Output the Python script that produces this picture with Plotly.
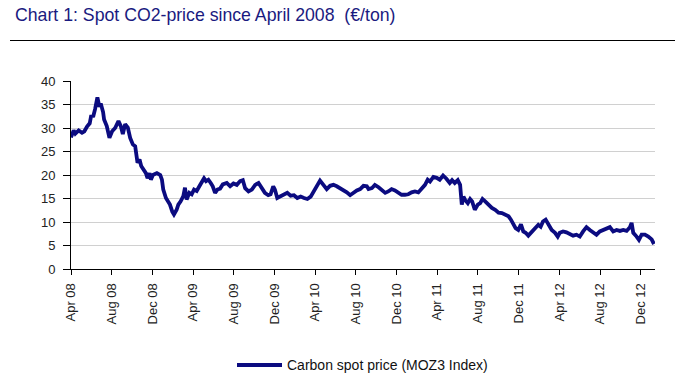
import plotly.graph_objects as go

dates = [
    "2008-04-01","2008-04-09","2008-04-14","2008-04-24","2008-05-04","2008-05-11","2008-05-19","2008-05-27",
    "2008-05-31","2008-06-07","2008-06-12","2008-06-19","2008-06-25","2008-06-29","2008-07-06","2008-07-09",
    "2008-07-17","2008-07-25","2008-08-02","2008-08-11","2008-08-21","2008-08-28","2008-09-03","2008-09-10",
    "2008-09-18","2008-09-25","2008-10-03","2008-10-10","2008-10-17","2008-10-23","2008-10-28","2008-11-04",
    "2008-11-11","2008-11-16","2008-11-22","2008-11-26","2008-12-02","2008-12-14","2008-12-24","2008-12-29",
    "2009-01-02","2009-01-10","2009-01-17","2009-01-22","2009-01-29","2009-02-03","2009-02-11","2009-02-16",
    "2009-02-23","2009-03-03","2009-03-08","2009-03-13","2009-03-21","2009-03-28","2009-04-04","2009-04-12",
    "2009-04-20","2009-04-27","2009-05-04","2009-05-10","2009-05-17","2009-05-24","2009-05-30","2009-06-06",
    "2009-06-13","2009-06-21","2009-06-29","2009-07-11","2009-07-21","2009-07-31","2009-08-10","2009-08-20",
    "2009-08-28","2009-09-04","2009-09-14","2009-09-24","2009-10-04","2009-10-14","2009-10-24","2009-11-02",
    "2009-11-12","2009-11-19","2009-11-27","2009-12-02","2009-12-09","2009-12-19","2009-12-29","2010-01-08",
    "2010-01-18","2010-01-28","2010-02-07","2010-02-17","2010-02-27","2010-03-09","2010-03-19","2010-03-29",
    "2010-04-08","2010-04-16","2010-04-26","2010-05-06","2010-05-16","2010-05-26","2010-06-05","2010-06-15",
    "2010-06-25","2010-07-05","2010-07-15","2010-07-25","2010-08-04","2010-08-14","2010-08-24","2010-09-03",
    "2010-09-08","2010-09-18","2010-09-27","2010-10-08","2010-10-18","2010-10-28","2010-11-06","2010-11-16",
    "2010-11-26","2010-12-06","2010-12-16","2010-12-26","2011-01-05","2011-01-15","2011-01-25","2011-02-04",
    "2011-02-14","2011-02-24","2011-03-04","2011-03-11","2011-03-21","2011-03-31","2011-04-09","2011-04-19",
    "2011-04-29","2011-05-09","2011-05-16","2011-05-24","2011-06-02","2011-06-09","2011-06-14","2011-06-19",
    "2011-06-24","2011-07-02","2011-07-09","2011-07-15","2011-07-23","2011-08-01","2011-08-08","2011-08-15",
    "2011-08-23","2011-09-02","2011-09-12","2011-09-22","2011-10-02","2011-10-12","2011-10-22","2011-11-01",
    "2011-11-08","2011-11-15","2011-11-22","2011-11-30","2011-12-08","2011-12-15","2011-12-22","2011-12-30",
    "2012-01-07","2012-01-14","2012-01-21","2012-01-29","2012-02-05","2012-02-12","2012-02-20","2012-02-28",
    "2012-03-09","2012-03-19","2012-03-27","2012-04-02","2012-04-12","2012-04-22","2012-05-02","2012-05-12",
    "2012-05-22","2012-06-01","2012-06-11","2012-06-21","2012-07-01","2012-07-11","2012-07-21","2012-07-31",
    "2012-08-10","2012-08-20","2012-08-30","2012-09-09","2012-09-19","2012-09-29","2012-10-09","2012-10-19",
    "2012-10-29","2012-11-03","2012-11-08","2012-11-18","2012-11-25","2012-12-03","2012-12-13","2012-12-23",
    "2013-01-02","2013-01-09",
]

prices = [
    28.0,29.5,28.8,29.5,29.0,29.3,30.3,31.0,
    32.5,32.6,34.0,36.5,34.5,35.2,33.4,31.8,
    30.4,27.9,29.3,30.0,31.5,30.4,28.7,30.8,
    30.1,27.9,26.5,26.1,22.6,23.3,21.9,21.2,
    20.4,19.3,20.4,19.0,20.0,20.4,20.0,19.0,
    16.9,15.1,14.4,13.7,12.2,11.6,12.6,13.7,
    14.4,15.5,17.3,14.8,16.2,15.9,16.9,16.6,
    17.6,18.3,19.3,18.7,19.0,18.3,17.6,16.2,
    16.9,17.1,18.0,18.3,17.6,18.2,17.9,18.7,
    18.9,17.2,16.5,16.9,17.9,18.3,17.2,16.2,
    15.7,15.9,17.6,16.9,15.1,15.4,15.7,16.2,
    15.6,15.7,15.1,15.4,15.1,14.9,15.4,16.5,
    17.6,18.8,17.9,17.0,17.7,17.9,17.6,17.2,
    16.9,16.3,15.7,16.3,16.7,17.0,17.7,17.6,
    17.0,17.2,17.9,17.4,16.9,16.2,16.5,17.0,
    16.7,16.2,15.8,15.8,15.9,16.3,16.5,16.3,
    17.0,17.9,19.0,18.6,19.6,19.4,19.0,19.9,
    19.2,18.3,18.9,18.3,18.9,17.9,13.7,15.4,
    14.7,14.0,14.9,14.4,12.6,13.7,14.0,14.9,
    14.4,13.7,13.0,12.6,12.0,11.9,11.5,11.2,
    10.5,9.4,8.7,8.3,9.5,8.0,7.7,7.1,
    7.7,8.3,8.7,9.4,9.0,10.1,10.5,9.4,
    8.3,7.7,6.9,7.7,8.0,7.8,7.5,7.1,
    7.3,6.9,8.0,8.9,8.3,7.7,7.3,8.0,
    8.3,8.5,8.9,8.0,8.3,8.1,8.3,8.1,
    8.9,9.8,7.7,6.9,6.2,7.3,7.3,6.9,
    6.3,5.3,
]

tick_dates = ["2008-04-01","2008-08-01","2008-12-01","2009-04-01","2009-08-01","2009-12-01",
              "2010-04-01","2010-08-01","2010-12-01","2011-04-01","2011-08-01","2011-12-01",
              "2012-04-01","2012-08-01","2012-12-01"]
tick_labels = ["Apr 08","Aug 08","Dec 08","Apr 09","Aug 09","Dec 09","Apr 10","Aug 10",
               "Dec 10","Apr 11","Aug 11","Dec 11","Apr 12","Aug 12","Dec 12"]
y_ticks = [0, 5, 10, 15, 20, 25, 30, 35, 40]

title_text = "Chart 1: Spot CO2-price since April 2008\u00a0\u00a0(€/ton)"
series_name = "Carbon spot price (MOZ3 Index)"

FONT = "Liberation Sans, Arial, sans-serif"
NAVY = "#0b0b80"

fig = go.Figure()
fig.add_trace(go.Scatter(x=dates, y=prices, mode="lines", name=series_name,
                         line=dict(color=NAVY, width=3.8), showlegend=False))

fig.update_layout(
    width=682, height=384,
    margin=dict(l=71, r=27, t=81, b=115),
    paper_bgcolor="white", plot_bgcolor="white",
    font=dict(family=FONT, size=13, color="#222222"),
    title=dict(text=title_text, x=15/682, xanchor="left", xref="container",
               y=1-15/384, yanchor="middle", yref="container",
               font=dict(family=FONT, size=17.7, color="#1a1a80")),
)
fig.update_xaxes(
    type="date", range=["2008-04-01", "2013-01-12"],
    tickmode="array", tickvals=tick_dates, ticktext=tick_labels, tickangle=-90,
    ticks="outside", ticklen=5, tickcolor="black", tickwidth=1, ticklabelstandoff=3,
    showline=True, linecolor="black", linewidth=1, showgrid=False, zeroline=False,
    tickfont=dict(family=FONT, size=13, color="#222222"), automargin=False,
)
fig.update_yaxes(
    range=[0, 40], tickmode="array", tickvals=y_ticks,
    ticks="outside", ticklen=7, tickcolor="black", tickwidth=1, ticklabelstandoff=5,
    showline=True, linecolor="black", linewidth=1,
    showgrid=True, gridcolor="#d0d0d0", gridwidth=1, zeroline=False,
    tickfont=dict(family=FONT, size=13, color="#222222"), automargin=False,
)

# rule under the title
rule_y = 1 + (81 - 40.5) / 188
fig.add_shape(type="line", xref="paper", yref="paper",
              x0=(10-71)/584, x1=(675-71)/584, y0=rule_y, y1=rule_y,
              line=dict(color="black", width=1))
# legend
ly = (269-365)/188
fig.add_shape(type="line", xref="paper", yref="paper",
              x0=(237-71)/584, x1=(282-71)/584, y0=ly, y1=ly,
              line=dict(color=NAVY, width=4))
fig.add_annotation(text=series_name, xref="paper", yref="paper",
                   x=(285-71)/584, y=ly, xanchor="left", yanchor="middle",
                   showarrow=False, font=dict(family=FONT, size=14, color="#111111"))

fig.write_html("out.html", config={"displayModeBar": False},
               post_script="document.body.style.margin='0';document.body.style.padding='0';")
